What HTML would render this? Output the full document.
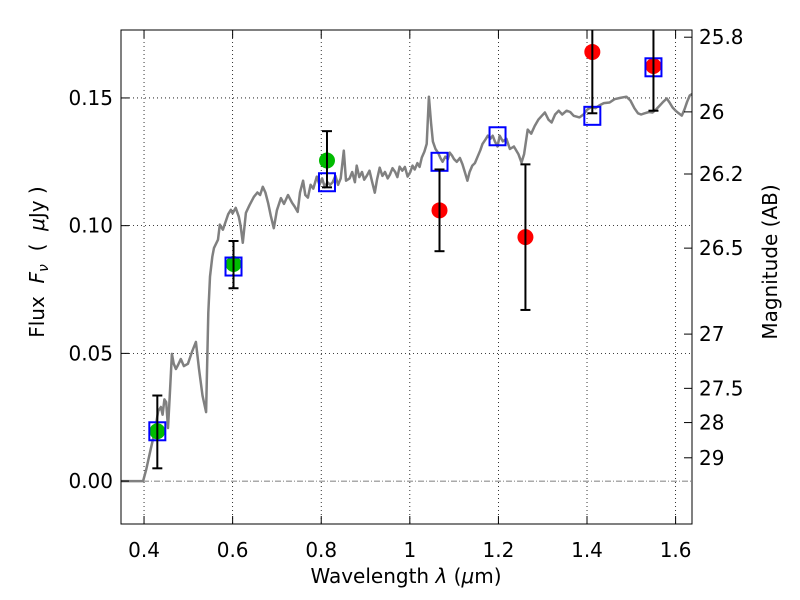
<!DOCTYPE html>
<html><head><meta charset="utf-8"><style>
body{margin:0;background:#fff;}
svg{display:block;font-family:"DejaVu Sans","Liberation Sans",sans-serif;}
</style></head><body>
<svg id="chart" width="800" height="600" viewBox="0 0 800 600">
<rect x="0" y="0" width="800" height="600" fill="#fff"/>
<defs><clipPath id="clip"><rect x="121" y="30" width="571" height="494"/></clipPath></defs>
<g id="grid"></g>
<g id="plot" clip-path="url(#clip)"></g>
<rect x="121" y="30" width="571" height="494" fill="none" stroke="#000" stroke-width="1"/>
<g id="ticks"></g>
<text x="406" y="583" font-size="20" text-anchor="middle">Wavelength  <tspan font-style="italic">λ</tspan> (<tspan font-style="italic">μ</tspan>m)</text>
<text transform="translate(44,262) rotate(-90)" font-size="20" text-anchor="middle" xml:space="preserve">Flux  <tspan font-style="italic">F</tspan><tspan font-style="italic" font-size="14" dy="4">ν</tspan><tspan dy="-4">  (  </tspan><tspan font-style="italic">μ</tspan>Jy )</text>
<text transform="translate(777,262) rotate(-90)" font-size="20" text-anchor="middle">Magnitude (AB)</text>
</svg>
<script>
const xTicks=[0.4,0.6,0.8,1.0,1.2,1.4,1.6];
const xTickLabels=["0.4","0.6","0.8","1","1.2","1.4","1.6"];
const yTicks=[0,0.05,0.10,0.15];
const yTickLabels=["0.00","0.05","0.10","0.15"];
const magTicks=[25.8,26,26.2,26.5,27,27.5,28,29];
const magTickLabels=["25.8","26","26.2","26.5","27","27.5","28","29"];
const specLam=[
0.348,0.398,0.405,0.415,0.425,0.432,0.438,0.442,0.446,0.450,
0.454,0.458,0.463,0.467,0.472,0.477,0.483,0.490,0.499,0.508,
0.517,0.524,0.532,0.540,0.545,0.549,0.554,0.558,0.567,0.571,
0.578,0.585,0.590,0.596,0.600,0.607,0.614,0.618,0.623,0.630,
0.638,0.648,0.656,0.662,0.668,0.674,0.680,0.686,0.693,0.700,
0.709,0.716,0.725,0.734,0.740,0.747,0.752,0.759,0.764,0.770,
0.776,0.782,0.790,0.796,0.802,0.808,0.814,0.820,0.826,0.832,
0.838,0.844,0.851,0.856,0.864,0.870,0.876,0.880,0.886,0.892,
0.897,0.903,0.909,0.915,0.921,0.926,0.932,0.938,0.944,0.950,
0.955,0.961,0.967,0.972,0.977,0.983,0.989,0.995,1.001,1.006,
1.011,1.017,1.022,1.027,1.033,1.038,1.043,1.048,1.052,1.058,
1.064,1.069,1.074,1.080,1.086,1.090,1.095,1.100,1.106,1.113,
1.119,1.125,1.130,1.135,1.141,1.147,1.153,1.159,1.164,1.170,
1.176,1.182,1.187,1.192,1.198,1.203,1.210,1.218,1.226,1.235,
1.245,1.252,1.258,1.266,1.274,1.282,1.290,1.298,1.305,1.313,
1.320,1.328,1.336,1.344,1.354,1.362,1.370,1.383,1.392,1.401,
1.410,1.419,1.428,1.438,1.451,1.462,1.475,1.489,1.498,1.507,
1.515,1.522,1.530,1.540,1.548,1.556,1.564,1.572,1.580,1.587,
1.593,1.600,1.607,1.614,1.620,1.626,1.632,1.637];
const specFlux=[
0,0,4.5,12.5,20.0,27.4,29.0,26.0,32.0,30.9,
20.8,33.0,49.8,46.0,43.9,45.5,47.8,45.0,45.9,50.5,
54.5,43.9,33.5,27.0,65.9,80.0,87.8,91.3,94.5,100.4,
98.4,102.0,104.5,106.2,104.8,107.0,103.5,100.0,93.3,105.0,
108.0,111.3,113.0,112.0,115.2,113.0,108.9,104.0,99.0,106.0,
110.8,108.5,112.0,109.0,107.5,105.4,113.0,117.6,112.0,111.0,
116.0,114.5,119.2,116.0,118.5,115.0,117.0,116.0,117.0,119.5,
116.0,118.5,129.4,117.6,118.5,121.0,117.0,123.5,119.0,121.0,
118.0,119.6,121.5,117.0,112.9,118.0,122.7,119.5,121.0,118.5,
120.0,122.5,121.0,119.0,123.1,121.5,123.0,119.2,121.0,123.5,
122.0,124.5,123.0,126.7,129.0,132.0,150.5,140.0,132.9,130.0,
128.5,126.5,125.0,127.0,126.0,128.6,127.5,126.0,125.0,126.5,
124.0,120.5,117.6,121.0,123.5,124.5,127.0,129.5,132.0,133.5,
135.2,134.0,135.2,133.0,131.0,135.2,133.0,134.0,130.0,131.0,
128.0,124.7,128.0,137.6,136.0,139.0,141.5,143.0,144.3,141.5,
140.4,143.5,145.0,143.5,145.0,144.5,143.0,142.4,143.5,145.5,
146.5,146.0,147.1,148.0,148.2,149.5,150.0,150.5,149.0,146.0,
144.0,143.5,144.0,144.5,144.3,145.5,147.0,148.5,149.8,148.0,
146.3,145.0,144.0,143.1,145.5,148.5,151.0,151.5];
const obsLam=[0.43,0.602,0.813,1.067,1.261,1.412,1.55];
const obsFlux=[0.0195,0.085,0.1255,0.106,0.0955,0.168,0.1625];
const obsLo=[0.005,0.0755,0.115,0.090,0.067,0.144,0.145];
const obsHi=[0.0335,0.094,0.137,0.122,0.124,0.20,0.20];
const obsColor=["#00bb00","#00bb00","#00bb00","#ff0000","#ff0000","#ff0000","#ff0000"];
const modelLam=[0.43,0.602,0.813,1.067,1.198,1.412,1.55];
const modelFlux=[0.0195,0.084,0.117,0.125,0.135,0.143,0.162];

const X0=121,X1=692,Y0=30,Y1=524,xmin=0.348,xmax=1.637,ymin=-0.0168,ymax=0.1766;
const sx=v=>X0+(v-xmin)/(xmax-xmin)*(X1-X0);
const sy=v=>Y1-(v-ymin)/(ymax-ymin)*(Y1-Y0);
const magToFlux=m=>Math.pow(10,(23.9-m)/2.5);
const NS="http://www.w3.org/2000/svg";
function mk(tag,attrs,parent){const e=document.createElementNS(NS,tag);for(const k in attrs)e.setAttribute(k,attrs[k]);parent.appendChild(e);return e;}
const grid=document.getElementById('grid'),plot=document.getElementById('plot'),ticks=document.getElementById('ticks');

xTicks.forEach((t,i)=>{const x=sx(t);
 const g=mk('line',{x1:x,x2:x,y1:Y0,y2:Y1,stroke:'#000','stroke-width':0.8,'stroke-dasharray':'1,3'},grid);
 
 mk('line',{x1:x,x2:x,y1:Y1,y2:Y1-8,stroke:'#000'},ticks);
 mk('line',{x1:x,x2:x,y1:Y0,y2:Y0+8,stroke:'#000'},ticks);
 const l=mk('text',{x:x,y:557,'font-size':20,'text-anchor':'middle'},ticks);l.textContent=xTickLabels[i];
 
});
yTicks.forEach((t,i)=>{const y=sy(t);
 if(t!==0){const g=mk('line',{x1:X0,x2:X1,y1:y,y2:y,stroke:'#000','stroke-width':0.8,'stroke-dasharray':'1,3'},grid);
 }
 mk('line',{x1:X0,x2:X0+8,y1:y,y2:y,stroke:'#000'},ticks);
 const l=mk('text',{x:113,y:y+7,'font-size':20,'text-anchor':'end'},ticks);l.textContent=yTickLabels[i];
 
});
magTicks.forEach((m,i)=>{const y=sy(magToFlux(m));
 mk('line',{x1:X1,x2:X1-8,y1:y,y2:y,stroke:'#000'},ticks);
 const l=mk('text',{x:699,y:y+7,'font-size':20},ticks);l.textContent=magTickLabels[i];
 
});
const zl=mk('line',{x1:X0,x2:X1,y1:sy(0),y2:sy(0),stroke:'#555','stroke-width':0.8,'stroke-dasharray':'6,2,1,2'},plot);


const n=Math.min(specLam.length,specFlux.length);
const pts=specLam.slice(0,n).map((l,i)=>sx(l).toFixed(1)+','+sy(specFlux[i]/1000).toFixed(1)).join(' ');
const sp=mk('polyline',{points:pts,fill:'none',stroke:'#808080','stroke-width':2.5,'stroke-linejoin':'round'},plot);


obsLam.forEach((l,i)=>{const x=sx(l);
 const c=mk('circle',{cx:x,cy:sy(obsFlux[i]),r:8,fill:obsColor[i]},plot);
 
});
modelLam.forEach((l,i)=>{const x=sx(l),y=sy(modelFlux[i]);
 const r=mk('rect',{x:x-8,y:y-9,width:16,height:18,fill:'none',stroke:'#0000ff','stroke-width':2},plot);
 
});
obsLam.forEach((l,i)=>{const x=sx(l),a=sy(obsLo[i]),b=sy(obsHi[i]);
 const e=mk('line',{x1:x,x2:x,y1:a,y2:b,stroke:'#000','stroke-width':2},plot);
 
 mk('line',{x1:x-5,x2:x+5,y1:a,y2:a,stroke:'#000','stroke-width':2},plot);
 mk('line',{x1:x-5,x2:x+5,y1:b,y2:b,stroke:'#000','stroke-width':2},plot);
});
</script>
</body></html>
